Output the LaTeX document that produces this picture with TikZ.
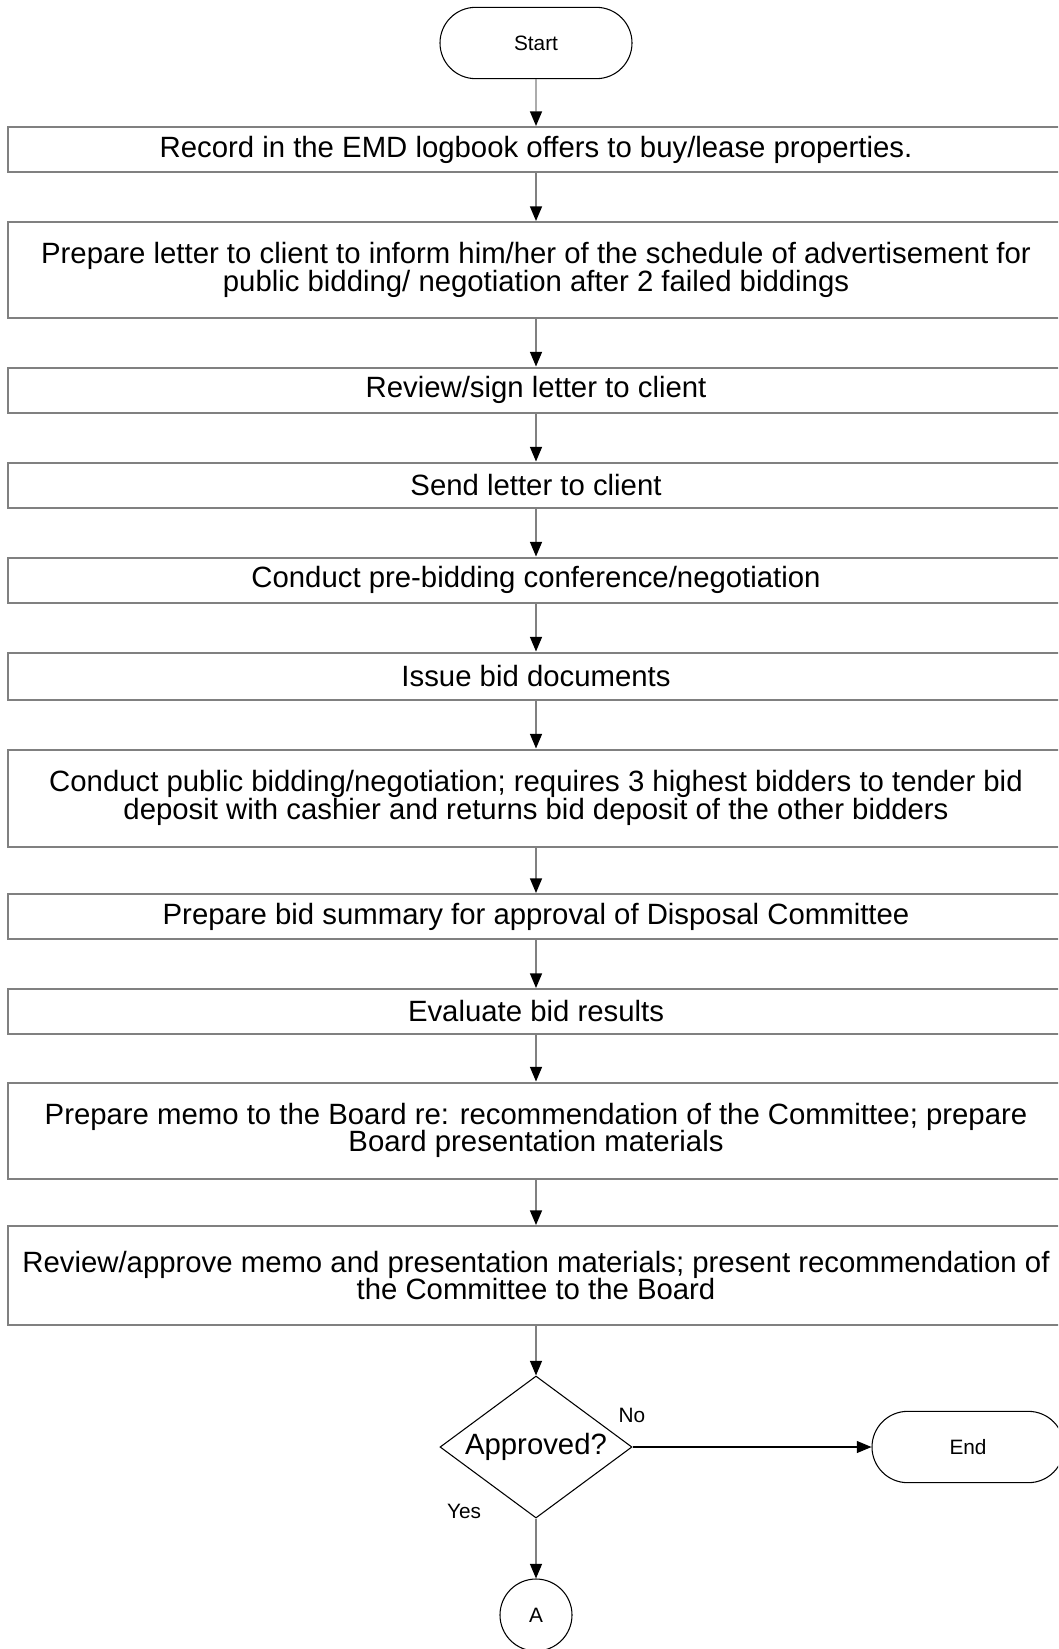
\documentclass[tikz,border=0pt]{standalone}
\usepackage{fontspec}
\setmainfont{Liberation Sans}
\usetikzlibrary{shapes.geometric,shapes.misc,arrows.meta}
\definecolor{linegray}{RGB}{128,128,128}
\tikzset{
  mainfont/.style={font=\fontsize{22pt}{20.6pt}\selectfont},
  smallfont/.style={font=\fontsize{15.6pt}{18pt}\selectfont},
  stepbox/.style={draw=linegray, line width=1.5pt, rectangle, minimum width=792pt, inner sep=0pt, align=center, mainfont},
  terminal/.style={draw=black, line width=0.8pt, rounded rectangle, minimum width=144pt, minimum height=53.5pt, inner sep=0pt, smallfont},
  decision/.style={draw=black, line width=0.8pt, diamond, aspect=1.35, minimum width=144pt, minimum height=106.5pt, inner sep=0pt, mainfont},
  connector/.style={draw=black, line width=0.8pt, circle, minimum size=54pt, inner sep=0pt, smallfont},
  flow/.style={draw=linegray, line width=1.1pt, -{Triangle[length=11pt,width=9pt,color=black,fill=black]}},
  flowdark/.style={draw=black, line width=0.8pt, -{Triangle[length=11pt,width=9pt,color=black,fill=black]}},
  lbl/.style={smallfont, inner sep=0pt}
}
\begin{document}
\begin{tikzpicture}[x=0.75pt,y=-0.75pt]
\useasboundingbox (0,0) rectangle (1058,1649);
\fill[white] (0,0) rectangle (1058,1649);
\clip (0,0) rectangle (1058,1649);

\node[terminal] (start) at (536,43) {Start};
\node[stepbox, minimum height=33.75pt] (b1) at (536,149.5) {Record in the EMD logbook offers to buy/lease properties.};
\node[stepbox, minimum height=72pt] (b2) at (536,270) {Prepare letter to client to inform him/her of the schedule of advertisement for\\public bidding/ negotiation after 2 failed biddings};
\node[stepbox, minimum height=33.75pt] (b3) at (536,390) {Review/sign letter to client};
\node[stepbox, minimum height=33.75pt] (b4) at (536,485) {Send letter to client};
\node[stepbox, minimum height=33.75pt] (b5) at (536,580) {Conduct pre-bidding conference/negotiation};
\node[stepbox, minimum height=35.25pt] (b6) at (536,676) {Issue bid documents};
\node[stepbox, minimum height=72.75pt] (b7) at (536,798) {Conduct public bidding/negotiation; requires 3 highest bidders to tender bid\\deposit with cashier and returns bid deposit of the other bidders};
\node[stepbox, minimum height=33.75pt] (b8) at (536,916.5) {Prepare bid summary for approval of Disposal Committee};
\node[stepbox, minimum height=33.75pt] (b9) at (536,1011.5) {Evaluate bid results};
\node[stepbox, minimum height=72pt] (b10) at (536,1130.5) {Prepare memo to the Board re: recommendation of the Committee; prepare\\Board presentation materials};
\node[stepbox, minimum height=74.25pt] (b11) at (536,1275.5) {Review/approve memo and presentation materials; present recommendation of\\the Committee to the Board};
\node[decision] (dec) at (536,1447) {Approved?};
\node[terminal] (end) at (968,1447) {End};
\node[connector] (a) at (536,1615) {A};

\node[lbl] (no) at (632,1415) {No};
\node[lbl] (yes) at (464,1511) {Yes};

\draw[flow] (start) -- (b1);
\draw[flow] (b1) -- (b2);
\draw[flow] (b2) -- (b3);
\draw[flow] (b3) -- (b4);
\draw[flow] (b4) -- (b5);
\draw[flow] (b5) -- (b6);
\draw[flow] (b6) -- (b7);
\draw[flow] (b7) -- (b8);
\draw[flow] (b8) -- (b9);
\draw[flow] (b9) -- (b10);
\draw[flow] (b10) -- (b11);
\draw[flow] (b11) -- (dec);
\draw[flowdark] (dec) -- (end);
\draw[flow] (dec) -- (a);
\end{tikzpicture}
\end{document}
